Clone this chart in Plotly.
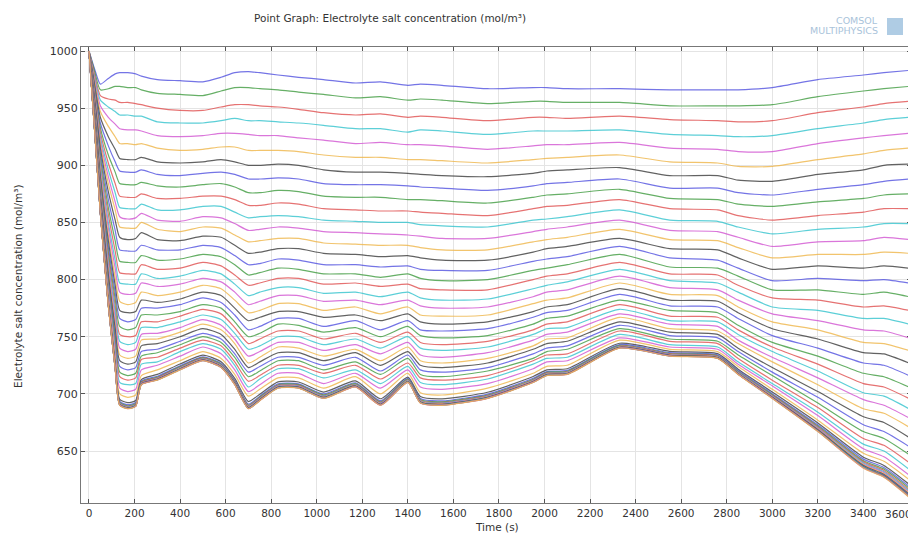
import plotly.graph_objects as go

time_s = [0, 25, 50, 85, 115, 135, 170, 205, 230, 300, 400, 500, 580, 640, 700, 750, 830, 920,
          1030, 1170, 1280, 1400, 1455, 1550, 1750, 1950, 2010, 2100, 2330, 2550, 2760, 2850,
          3000, 3200, 3400, 3490, 3600]

# Concentration (mol/m^3) of the 48 curves (top curve first) at each sample time
p0000 = [1000, 1000, 1000, 1000, 1000, 1000, 1000, 1000, 1000, 1000, 1000, 1000, 1000, 1000, 1000, 1000,
         1000, 1000, 1000, 1000, 1000, 1000, 1000, 1000, 1000, 1000, 1000, 1000, 1000, 1000, 1000, 1000,
         1000, 1000, 1000, 1000, 1000, 1000, 1000, 1000, 1000, 1000, 1000, 1000, 1000, 1000, 1000, 1000]
p0025 = [984, 982, 979, 977, 975, 973, 970, 968, 966, 964, 962, 961, 959, 957, 955, 953,
         952, 950, 948, 947, 945, 944, 943, 942, 940, 939, 938, 937, 936, 935, 935, 934,
         933, 932, 931, 930.6, 930.5, 930.4, 930.3, 930.2, 930.2, 930.1, 930.1, 930.1, 930.1, 930, 930, 930]
p0050 = [971, 966, 961, 957, 952, 947, 942, 937, 933, 929, 925, 922, 919, 915, 911, 907,
         903, 900, 896, 893, 890, 887, 885, 882, 880, 877, 875, 873, 871, 869, 868, 866,
         864, 862, 860, 859.4, 859, 858.8, 858.6, 858.5, 858.3, 858.3, 858.2, 858.2, 858.1, 858.1, 858, 858]
p0085 = [976, 967, 958, 951, 942, 934, 925, 917, 909, 902, 896, 890, 884, 877, 870, 863,
         857, 850, 845, 839, 834, 829, 824, 820, 815, 811, 807, 804, 800, 797, 794, 791,
         787, 784, 780.6, 779.4, 778.8, 778.4, 778, 777.8, 777.6, 777.5, 777.4, 777.3, 777.2, 777.1, 777.1, 777]
p0115 = [980, 969, 957, 947, 936, 925, 914, 903, 894, 884, 876, 868, 861, 852, 843, 834,
         825, 817, 810, 802, 795, 789, 783, 777, 772, 766, 761, 757, 752, 748, 744, 740,
         735, 731, 726.6, 725.1, 724.3, 723.8, 723.3, 723, 722.8, 722.6, 722.5, 722.4, 722.3, 722.2, 722.1, 722]
p0135 = [981, 969, 955, 944, 932, 919, 906, 895, 884, 873, 863, 855, 846, 837, 826, 816,
         806, 797, 789, 781, 773, 766, 759, 752, 746, 740, 734, 729, 724, 719, 715, 710,
         705, 700, 695.2, 693.5, 692.6, 692, 691.5, 691.2, 690.9, 690.7, 690.6, 690.4, 690.3, 690.2, 690.1, 690]
p0170 = [981, 968, 955, 944, 931, 919, 905, 894, 883, 872, 862, 853, 845, 835, 825, 815,
         805, 796, 787, 778, 771, 763, 756, 750, 743, 737, 731, 726, 721, 716, 712, 708,
         702, 697, 692.3, 690.5, 689.6, 689.1, 688.5, 688.2, 687.9, 687.7, 687.6, 687.4, 687.3, 687.2, 687.1, 687]
p0205 = [980, 968, 954, 943, 931, 918, 905, 894, 883, 872, 862, 854, 845, 836, 825, 815,
         805, 796, 788, 780, 772, 765, 758, 751, 745, 739, 733, 728, 723, 718, 714, 709,
         704, 699, 694.2, 692.5, 691.6, 691, 690.5, 690.2, 689.9, 689.7, 689.6, 689.4, 689.3, 689.2, 689.1, 689]
p0230 = [978, 966, 953, 943, 930, 919, 907, 896, 885, 875, 866, 858, 850, 841, 830, 821,
         813, 805, 797, 789, 782, 775, 769, 763, 758, 752, 747, 742, 737, 733, 730, 726,
         721, 716, 712.5, 711.2, 710.4, 709.9, 709.4, 709.1, 708.8, 708.7, 708.5, 708.4, 708.3, 708.2, 708.1, 708]
p0300 = [975, 963, 950, 938, 926, 915, 903, 892, 882, 871, 861, 852, 844, 835, 826, 817,
         809, 801, 794, 786, 780, 775, 769, 763, 758, 753, 748, 744, 739, 736, 732, 728,
         725, 721, 717, 715.4, 714.6, 714.1, 713.6, 713.3, 712.9, 712.8, 712.6, 712.4, 712.3, 712.2, 712.1, 712]
p0400 = [974, 962, 948, 937, 925, 913, 902, 891, 881, 871, 861, 851, 842, 834, 826, 818,
         810, 803, 796, 789, 783, 778, 772, 768, 763, 758, 754, 750, 746, 743, 740, 737,
         733, 729, 726.1, 724.5, 723.8, 723.3, 722.8, 722.4, 722.1, 721.8, 721.6, 721.4, 721.3, 721.2, 721.1, 721]
p0500 = [973, 961, 948, 937, 926, 914, 903, 893, 883, 873, 864, 855, 846, 838, 830, 822,
         815, 808, 801, 795, 789, 784, 778, 774, 769, 765, 761, 757, 753, 750, 747, 744,
         741, 737, 733.9, 732.4, 731.7, 731.2, 730.7, 730.3, 730, 729.8, 729.6, 729.4, 729.3, 729.1, 729.1, 729]
p0580 = [977, 965, 951, 939, 928, 916, 905, 894, 884, 873, 864, 854, 845, 837, 828, 820,
         812, 805, 798, 792, 786, 780, 775, 770, 765, 760, 756, 752, 748, 745, 742, 739,
         735, 731, 728.1, 726.6, 725.8, 725.3, 724.8, 724.4, 724.1, 723.8, 723.6, 723.4, 723.3, 723.2, 723.1, 723]
p0640 = [981, 968, 953, 941, 928, 916, 903, 892, 881, 870, 859, 849, 839, 830, 821, 813,
         804, 796, 789, 782, 775, 769, 763, 758, 753, 748, 744, 739, 735, 732, 728, 725,
         721, 717, 713.5, 711.8, 711, 710.5, 709.9, 709.5, 709.1, 708.9, 708.7, 708.5, 708.3, 708.2, 708.1, 708]
p0700 = [982, 968, 953, 939, 927, 913, 900, 888, 876, 865, 854, 843, 833, 823, 813, 804,
         795, 786, 778, 771, 764, 756, 750, 744, 739, 733, 727, 723, 719, 715, 711, 706,
         702, 698, 693.3, 691.1, 690.2, 689.7, 689.1, 688.6, 688.2, 687.9, 687.7, 687.5, 687.3, 687.2, 687.1, 687]
p0750 = [981, 967, 952, 939, 926, 913, 900, 888, 876, 865, 855, 844, 834, 824, 814, 806,
         797, 789, 781, 773, 767, 759, 753, 748, 742, 737, 732, 728, 724, 720, 716, 713,
         708, 704, 699.7, 698, 697.2, 696.6, 696, 695.6, 695.2, 694.9, 694.7, 694.5, 694.3, 694.2, 694.1, 694]
p0830 = [979, 966, 951, 938, 926, 913, 901, 889, 878, 867, 856, 846, 836, 827, 818, 810,
         801, 793, 786, 779, 772, 766, 761, 755, 750, 745, 741, 736, 732, 729, 725, 722,
         718, 714, 710.5, 708.8, 708, 707.5, 706.9, 706.5, 706.2, 705.9, 705.7, 705.5, 705.3, 705.2, 705.1, 705]
p0920 = [977, 964, 949, 937, 924, 912, 900, 888, 877, 866, 855, 845, 836, 827, 817, 809,
         801, 793, 786, 779, 772, 766, 760, 755, 750, 745, 740, 736, 732, 729, 725, 722,
         718, 714, 710.4, 708.8, 708, 707.4, 706.9, 706.5, 706.1, 705.9, 705.7, 705.5, 705.3, 705.2, 705.1, 705]
p1030 = [975, 962, 946, 935, 922, 909, 896, 884, 873, 862, 852, 842, 832, 823, 813, 805,
         796, 788, 781, 773, 767, 759, 754, 748, 743, 738, 733, 729, 725, 721, 718, 714,
         709, 705, 701.6, 699.9, 699.1, 698.5, 698, 697.5, 697.2, 696.9, 696.7, 696.5, 696.3, 696.2, 696.1, 696]
p1170 = [972, 959, 944, 932, 919, 907, 894, 883, 872, 861, 851, 841, 831, 822, 813, 805,
         797, 789, 782, 776, 769, 764, 758, 753, 748, 743, 739, 736, 732, 728, 725, 721,
         718, 715, 711.3, 709.7, 708.9, 708.4, 707.9, 707.5, 707.1, 706.9, 706.6, 706.5, 706.3, 706.2, 706.1, 706]
p1280 = [973, 960, 945, 932, 920, 907, 894, 883, 872, 860, 850, 840, 830, 820, 811, 802,
         794, 785, 778, 770, 764, 756, 750, 745, 740, 735, 729, 725, 720, 717, 713, 709,
         705, 700, 695.7, 694, 693.1, 692.5, 692, 691.6, 691.2, 690.9, 690.7, 690.5, 690.3, 690.2, 690.1, 690]
p1400 = [970, 957, 942, 929, 918, 905, 893, 882, 870, 860, 850, 839, 830, 821, 812, 805,
         796, 789, 782, 776, 770, 764, 759, 754, 750, 745, 741, 737, 734, 731, 727, 724,
         721, 718, 714.6, 713.6, 712.9, 712.3, 711.8, 711.4, 711.1, 710.8, 710.6, 710.4, 710.3, 710.2, 710.1, 710]
p1455 = [971, 958, 943, 931, 918, 905, 892, 881, 870, 859, 848, 838, 828, 819, 809, 801,
         792, 784, 777, 769, 763, 756, 751, 745, 740, 734, 729, 725, 721, 717, 714, 710,
         706, 701, 697.6, 695.9, 695.1, 694.5, 694, 693.5, 693.2, 692.9, 692.7, 692.5, 692.3, 692.2, 692.1, 692]
p1550 = [970, 957, 942, 930, 917, 904, 891, 880, 869, 858, 847, 836, 826, 817, 808, 799,
         791, 782, 775, 768, 761, 755, 749, 743, 738, 732, 727, 723, 719, 715, 712, 708,
         704, 699, 695.6, 693.9, 693.1, 692.5, 692, 691.5, 691.2, 690.9, 690.7, 690.5, 690.3, 690.2, 690.1, 690]
p1750 = [967, 954, 939, 927, 914, 902, 890, 878, 867, 856, 846, 836, 826, 817, 808, 800,
         791, 783, 776, 769, 763, 757, 751, 746, 741, 736, 731, 727, 723, 720, 716, 713,
         709, 705, 701.4, 699.8, 699, 698.4, 697.9, 697.5, 697.1, 696.9, 696.7, 696.5, 696.3, 696.2, 696.1, 696]
p1950 = [968, 956, 942, 930, 917, 905, 893, 882, 872, 862, 852, 842, 833, 824, 816, 808,
         800, 792, 785, 779, 772, 767, 761, 756, 752, 747, 742, 739, 735, 731, 729, 726,
         722, 718, 715.2, 713.6, 712.8, 712.3, 711.8, 711.4, 711.1, 710.8, 710.6, 710.4, 710.3, 710.2, 710.1, 710]
p2010 = [968, 956, 942, 930, 918, 906, 895, 884, 874, 864, 853, 844, 835, 827, 818, 810,
         803, 795, 789, 782, 776, 771, 766, 761, 757, 752, 748, 744, 740, 737, 734, 731,
         728, 724, 721, 719.5, 718.8, 718.3, 717.8, 717.4, 717.1, 716.8, 716.6, 716.4, 716.3, 716.2, 716.1, 716]
p2100 = [967, 955, 941, 930, 918, 907, 896, 885, 875, 865, 855, 846, 837, 829, 820, 813,
         805, 798, 791, 784, 778, 773, 768, 763, 758, 754, 749, 746, 742, 739, 735, 732,
         729, 725, 722, 720.5, 719.8, 719.3, 718.8, 718.4, 718.1, 717.8, 717.6, 717.4, 717.3, 717.2, 717.1, 717]
p2330 = [967, 955, 943, 931, 920, 909, 898, 888, 879, 870, 861, 852, 844, 836, 829, 822,
         815, 809, 803, 797, 792, 787, 782, 778, 774, 770, 767, 763, 760, 757, 755, 752,
         749, 747, 744.3, 743.1, 742.4, 741.9, 741.5, 741.2, 740.9, 740.7, 740.5, 740.4, 740.2, 740.1, 740.1, 740]
p2550 = [966, 952, 940, 927, 915, 903, 891, 880, 871, 862, 852, 843, 835, 827, 819, 811,
         805, 799, 793, 787, 782, 777, 773, 768, 764, 761, 757, 754, 751, 748, 746, 743,
         741, 739, 737.2, 736, 735.3, 734.9, 734.4, 734.1, 733.9, 733.7, 733.5, 733.3, 733.2, 733.1, 733.1, 733]
p2760 = [966, 952, 939, 926, 914, 902, 891, 880, 870, 861, 851, 842, 834, 826, 817, 810,
         804, 797, 791, 786, 781, 776, 771, 767, 763, 759, 755, 752, 749, 746, 744, 741,
         739, 737, 735.2, 734.1, 733.4, 732.9, 732.4, 732.1, 731.9, 731.7, 731.5, 731.4, 731.2, 731.1, 731.1, 731]
p2850 = [966, 952, 938, 925, 912, 899, 887, 876, 866, 856, 846, 837, 828, 819, 810, 803,
         795, 789, 782, 776, 771, 766, 760, 756, 752, 747, 744, 740, 737, 734, 731, 728,
         726, 724, 721.6, 720.4, 719.6, 719.1, 718.6, 718.3, 718, 717.7, 717.6, 717.4, 717.2, 717.1, 717.1, 717]
p3000 = [968, 953, 939, 926, 912, 899, 886, 874, 864, 852, 840, 829, 819, 809, 799, 791,
         784, 776, 770, 763, 757, 751, 745, 741, 737, 732, 728, 723, 719, 716, 712, 709,
         707, 704, 701.6, 700.2, 699.3, 698.7, 698.1, 697.7, 697.3, 697, 696.8, 696.5, 696.4, 696.2, 696.1, 696]
p3200 = [975, 960, 946, 932, 919, 905, 892, 879, 868, 856, 844, 833, 822, 812, 801, 791,
         782, 773, 764, 756, 748, 740, 733, 726, 720, 714, 708, 702, 697, 692, 688, 684,
         681, 677, 674.5, 672.9, 671.8, 671, 670.2, 669.6, 669.1, 668.6, 668.2, 667.9, 667.6, 667.3, 667.2, 667]
p3400 = [979, 965, 951, 937, 924, 910, 896, 883, 871, 859, 846, 834, 822, 810, 799, 787,
         776, 766, 756, 745, 736, 727, 718, 709, 701, 695, 687, 680, 673, 667, 661, 656,
         652, 648, 644.6, 642.9, 641.5, 640.5, 639.5, 638.6, 637.9, 637.3, 636.7, 636.2, 635.8, 635.5, 635.2, 635]
p3490 = [981, 967, 954, 940, 926, 913, 900, 886, 874, 862, 849, 837, 824, 812, 800, 789,
         777, 766, 755, 744, 735, 725, 715, 706, 698, 690, 683, 675, 667, 661, 655, 650,
         645, 641, 637.4, 635.6, 634.2, 633, 631.9, 631, 630.2, 629.5, 628.9, 628.3, 627.9, 627.5, 627.3, 627]
p3600 = [983, 969, 956, 942, 928, 915, 901, 888, 875, 862, 849, 835, 823, 810, 797, 785,
         773, 761, 749, 738, 727, 716, 706, 696, 687, 679, 671, 662, 654, 647, 640, 634,
         629, 625, 621, 619.1, 617.6, 616.3, 615.1, 614.1, 613.2, 612.4, 611.7, 611.1, 610.6, 610.2, 609.9, 609.6]

profiles = [p0000, p0025, p0050, p0085, p0115, p0135, p0170, p0205, p0230, p0300, p0400, p0500,
            p0580, p0640, p0700, p0750, p0830, p0920, p1030, p1170, p1280, p1400, p1455, p1550,
            p1750, p1950, p2010, p2100, p2330, p2550, p2760, p2850, p3000, p3200, p3400, p3490, p3600]

x_ticks = [0, 200, 400, 600, 800, 1000, 1200, 1400, 1600, 1800, 2000, 2200, 2400, 2600, 2800,
           3000, 3200, 3400, 3600]
x_tick_labels = ['0', '200', '400', '600', '800', '1000', '1200', '1400', '1600', '1800', '2000',
                 '2200', '2400', '2600', '2800', '3000', '3200', '3400', '3600']
y_ticks = [650, 700, 750, 800, 850, 900, 950, 1000]

# COMSOL default line colour cycle (blue, green, red, cyan, magenta, yellow, black)
cycle_colors = ['#5252e0', '#409c40', '#e05050', '#34c4ce', '#d254d2', '#efb649', '#3c3c3c']

fig = go.Figure()
n_curves = len(p0000)
for k in range(n_curves):
    fig.add_trace(go.Scatter(
        x=time_s,
        y=[row[k] for row in profiles],
        mode='lines',
        line=dict(color=cycle_colors[k % len(cycle_colors)], width=1.2,
                  shape='spline', smoothing=0.6),
        opacity=0.8,
        showlegend=False,
        hoverinfo='skip',
    ))

# The page shows the figure 8 px in from the top-left corner of the window
OFF = 8
W, H = 916 - OFF, 536 - OFF
L, R, T, B = 81 - OFF, 5, 47 - OFF, 33
pw, ph = W - L - R, H - T - B


def px(xs):
    return (xs - OFF - L) / pw


def py(ys):
    return (H - B - (ys - OFF)) / ph


fig.update_layout(
    width=W, height=H,
    margin=dict(l=L, r=R, t=T, b=B, autoexpand=False),
    paper_bgcolor='white', plot_bgcolor='white',
    showlegend=False,
    font=dict(family='DejaVu Sans', size=11, color='#333333'),
    annotations=[
        dict(text='Point Graph: Electrolyte salt concentration (mol/m³)',
             xref='paper', yref='paper', x=px(252), y=py(18), xanchor='left', yanchor='middle',
             showarrow=False, font=dict(size=10.5, color='#333333')),
        dict(text='Time (s)', xref='paper', yref='paper', x=px(497), y=py(527),
             xanchor='center', yanchor='middle', showarrow=False,
             font=dict(size=10.5, color='#333333')),
        dict(text='Electrolyte salt concentration (mol/m³)', xref='paper', yref='paper',
             x=px(18), y=py(286), xanchor='center', yanchor='middle', textangle=-90,
             showarrow=False, font=dict(size=10.5, color='#333333')),
        # last x tick label, pulled in slightly so it stays readable at the window edge
        dict(text=x_tick_labels[-1], xref='paper', yref='paper', x=px(914), y=py(513.5),
             xanchor='right', yanchor='middle', showarrow=False,
             font=dict(size=10.5, color='#333333')),
        dict(text='COMSOL', xref='paper', yref='paper', x=px(880), y=py(21),
             xanchor='right', yanchor='middle', showarrow=False,
             font=dict(size=9.5, color='#a9c3da')),
        dict(text='MULTIPHYSICS', xref='paper', yref='paper', x=px(880), y=py(31),
             xanchor='right', yanchor='middle', showarrow=False,
             font=dict(size=9.5, color='#a9c3da')),
    ],
    shapes=[
        dict(type='rect', xref='paper', yref='paper', x0=px(887), x1=px(903),
             y0=py(35), y1=py(18), fillcolor='#8db6d9', line=dict(width=0), opacity=0.7),
    ],
)

fig.update_xaxes(
    range=[-35, 3609], tickmode='array', tickvals=x_ticks,
    ticktext=x_tick_labels[:-1] + [''], automargin=False,
    ticks='inside', ticklen=4, tickcolor='#555555',
    showline=True, linecolor='#777777', linewidth=1, mirror='ticks',
    showgrid=True, gridcolor='#e4e4e4', gridwidth=1, zeroline=False,
    tickfont=dict(size=10.5, color='#333333'),
)
fig.update_yaxes(
    range=[604.5, 1003.5], tickmode='array', tickvals=y_ticks, automargin=False,
    ticks='inside', ticklen=4, tickcolor='#555555',
    showline=True, linecolor='#777777', linewidth=1, mirror='ticks',
    showgrid=True, gridcolor='#e4e4e4', gridwidth=1, zeroline=False,
    tickfont=dict(size=11, color='#333333'),
)

fig.write_html('out.html')
